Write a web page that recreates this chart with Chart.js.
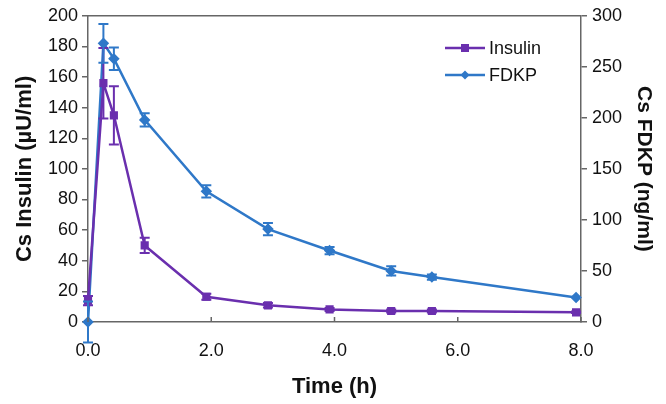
<!DOCTYPE html>
<html><head><meta charset="utf-8">
<script src="https://cdn.jsdelivr.net/npm/chart.js@4/dist/chart.umd.min.js"></script>
<style>html,body{margin:0;padding:0;background:#fff}#wrap{width:666px;height:404px}</style>
</head><body><div id="wrap"><canvas id="c" width="666" height="404"></canvas></div>
<script>
const times = [0, 0.25, 0.42, 0.92, 1.92, 2.92, 3.92, 4.92, 5.58, 7.92];
const insulin = [14, 156, 135, 50, 16.5, 10.9, 8.2, 7.2, 7.2, 6.3];
const insulinErr = [3, 23, 19, 5, 2, 1.5, 1, 1, 1, 0.5];
const fdkp = [0, 273, 258, 198, 128, 91, 70, 50, 44, 24];
const fdkpErr = [20, 19, 11, 6.5, 6, 6, 3.5, 4.5, 2.5, 0];
const xTicks = [0, 2, 4, 6, 8];
const seriesNames = ['Insulin', 'FDKP'];

const C_INS = '#6A2FAE';
const C_FD = '#2F78C8';
const AXIS = '#666';
const FONT = "'Liberation Sans', Arial, sans-serif";

const errPlugin = {
  id: 'extras',
  afterDatasetsDraw(chart) {
    const ctx = chart.ctx;
    const xs = chart.scales.x;
    const sets = [
      {vals: insulin, err: insulinErr, scale: chart.scales.y, color: C_INS},
      {vals: fdkp, err: fdkpErr, scale: chart.scales.y2, color: C_FD}
    ];
    ctx.save();
    sets.forEach(s => {
      ctx.strokeStyle = s.color; ctx.lineWidth = 2;
      times.forEach((t, i) => {
        if (!s.err[i]) return;
        const px = xs.getPixelForValue(t);
        const y1 = s.scale.getPixelForValue(s.vals[i] + s.err[i]);
        const y2 = s.scale.getPixelForValue(s.vals[i] - s.err[i]);
        ctx.beginPath();
        ctx.moveTo(px, y1); ctx.lineTo(px, y2);
        ctx.moveTo(px - 5, y1); ctx.lineTo(px + 5, y1);
        ctx.moveTo(px - 5, y2); ctx.lineTo(px + 5, y2);
        ctx.stroke();
      });
    });
    ctx.restore();
  },
  afterDraw(chart) {
    const ctx = chart.ctx;
    const a = chart.chartArea;
    const xs = chart.scales.x;
    ctx.save();
    ctx.strokeStyle = AXIS; ctx.lineWidth = 1.5;
    ctx.beginPath();
    ctx.moveTo(a.left, a.top); ctx.lineTo(a.right, a.top);
    ctx.stroke();
    ctx.beginPath();
    xTicks.forEach(v => {
      const px = xs.getPixelForValue(v);
      ctx.moveTo(px, a.bottom); ctx.lineTo(px, a.bottom - 5);
    });
    ctx.stroke();
    const items = [{name: seriesNames[0], color: C_INS, shape: 'sq', y: 48}, {name: seriesNames[1], color: C_FD, shape: 'dia', y: 75}];
    items.forEach(it => {
      ctx.strokeStyle = it.color; ctx.fillStyle = it.color; ctx.lineWidth = 2.5;
      ctx.beginPath(); ctx.moveTo(445, it.y); ctx.lineTo(485, it.y); ctx.stroke();
      if (it.shape === 'sq') { ctx.fillRect(461, it.y - 4, 8, 8); }
      else { ctx.beginPath(); ctx.moveTo(465, it.y - 4.5); ctx.lineTo(469.5, it.y); ctx.lineTo(465, it.y + 4.5); ctx.lineTo(460.5, it.y); ctx.closePath(); ctx.fill(); }
      ctx.fillStyle = '#111'; ctx.font = '18px ' + FONT; ctx.textBaseline = 'middle'; ctx.textAlign = 'left';
      ctx.fillText(it.name, 489, it.y + 1);
    });
    ctx.restore();
  }
};

new Chart(document.getElementById('c'), {
  type: 'line',
  data: {
    datasets: [
      {label: seriesNames[0], data: times.map((t, i) => ({x: t, y: insulin[i]})), yAxisID: 'y',
       borderColor: C_INS, backgroundColor: C_INS, borderWidth: 2.5, pointStyle: 'rect', pointRadius: 4, clip: false, tension: 0},
      {label: seriesNames[1], data: times.map((t, i) => ({x: t, y: fdkp[i]})), yAxisID: 'y2',
       borderColor: C_FD, backgroundColor: C_FD, borderWidth: 2.5, pointStyle: 'rectRot', pointRadius: 4, clip: false, tension: 0}
    ]
  },
  options: {
    responsive: false, animation: false, devicePixelRatio: 1,
    layout: {padding: {top: 15, left: 0, right: 0, bottom: 0}},
    plugins: {legend: {display: false}, tooltip: {enabled: false}},
    scales: {
      x: {type: 'linear', min: 0, max: 8,
        afterFit(s) { s.height = 82; },
        afterBuildTicks(s) { s.ticks = xTicks.map(v => ({value: v})); },
        grid: {display: true, drawOnChartArea: false, drawTicks: false, color: AXIS},
        border: {color: AXIS, width: 1.5},
        ticks: {padding: 18, color: '#111', font: {family: FONT, size: 18}, callback: v => v.toFixed(1), maxRotation: 0},
        title: {display: true, text: 'Time (h)', color: '#111', font: {family: FONT, size: 22, weight: 'bold'}, padding: {top: 2, bottom: 4}}
      },
      y: {position: 'left', min: 0, max: 200,
        afterFit(s) { s.width = 88; },
        grid: {drawOnChartArea: false, tickLength: 6, color: AXIS, lineWidth: 1.5},
        border: {color: AXIS, width: 1.5},
        ticks: {stepSize: 20, padding: 4, color: '#111', font: {family: FONT, size: 18}},
        title: {display: true, text: 'Cs Insulin (µU/ml)', color: '#111', font: {family: FONT, size: 22, weight: 'bold'}, padding: {top: 12, bottom: 0}}
      },
      y2: {position: 'right', min: 0, max: 300,
        afterFit(s) { s.width = 85; },
        grid: {drawOnChartArea: false, tickLength: 6, color: AXIS, lineWidth: 1.5},
        border: {color: AXIS, width: 1.5},
        ticks: {stepSize: 50, padding: 5, color: '#111', font: {family: FONT, size: 18}},
        title: {display: true, text: 'Cs FDKP (ng/ml)', color: '#111', font: {family: FONT, size: 21, weight: 'bold'}, padding: {top: 10, bottom: 0}}
      }
    }
  },
  plugins: [errPlugin]
});
</script></body></html>
